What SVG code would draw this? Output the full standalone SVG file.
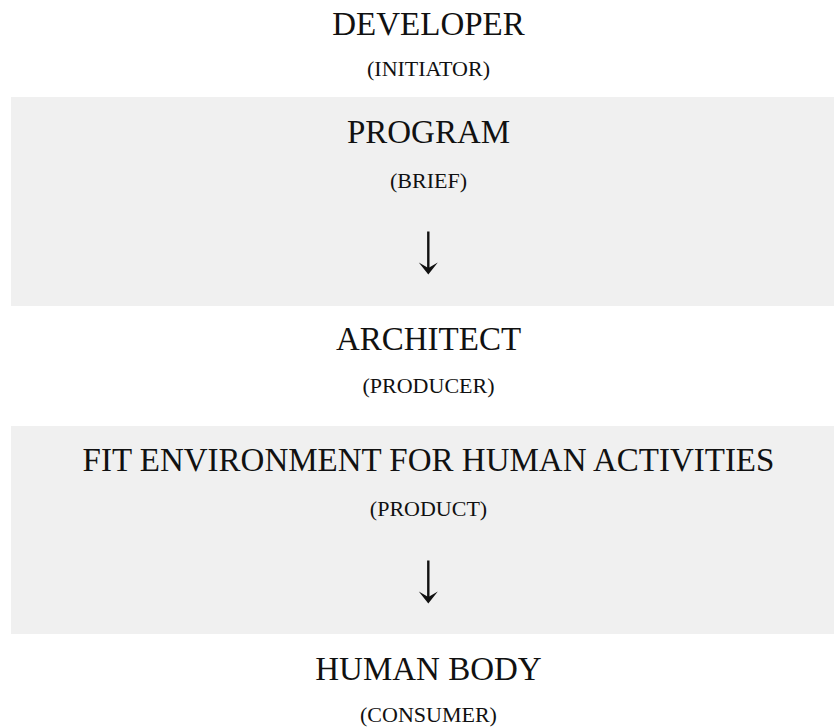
<svg xmlns="http://www.w3.org/2000/svg" width="834" height="727" viewBox="0 0 834 727">
  <style>
    .title { font-family: "Liberation Serif", "Times New Roman", serif; font-size: 33px; fill: #111; text-anchor: middle; }
    .role { font-family: "Liberation Serif", "Times New Roman", serif; font-size: 22px; fill: #111; text-anchor: middle; }
    .band { fill: #f0f0f0; }
    .shaft { stroke: #111; stroke-width: 2.4; fill: none; }
    .head { fill: #111; }
  </style>
  <defs>
    <g id="down-arrow">
      <line class="shaft" x1="0" y1="0" x2="0" y2="38"/>
      <path class="head" d="M-9.5,31 L0,43 L9.5,31 L0,36.5 Z"/>
    </g>
  </defs>
  <rect width="834" height="727" fill="#ffffff"/>

  <!-- shaded bands -->
  <rect class="band" x="11" y="97" width="823" height="209"/>
  <rect class="band" x="11" y="426" width="823" height="208"/>

  <g id="developer">
    <text class="title" x="428.5" y="34.5">DEVELOPER</text>
    <text class="role" x="428.5" y="76">(INITIATOR)</text>
  </g>
  <g id="program">
    <text class="title" x="428.5" y="142.5">PROGRAM</text>
    <text class="role" x="428.5" y="187.5">(BRIEF)</text>
  </g>
  <g id="architect">
    <text class="title" x="428.5" y="350">ARCHITECT</text>
    <text class="role" x="428.5" y="393">(PRODUCER)</text>
  </g>
  <g id="environment">
    <text class="title" x="428.5" y="470.5">FIT ENVIRONMENT FOR HUMAN ACTIVITIES</text>
    <text class="role" x="428.5" y="515.5">(PRODUCT)</text>
  </g>
  <g id="human-body">
    <text class="title" x="428.5" y="680">HUMAN BODY</text>
    <text class="role" x="428.5" y="721.5">(CONSUMER)</text>
  </g>

  <g id="connectors">
    <use href="#down-arrow" x="428.3" y="231.5"/>
    <use href="#down-arrow" x="428.3" y="560.5"/>
  </g>
</svg>
